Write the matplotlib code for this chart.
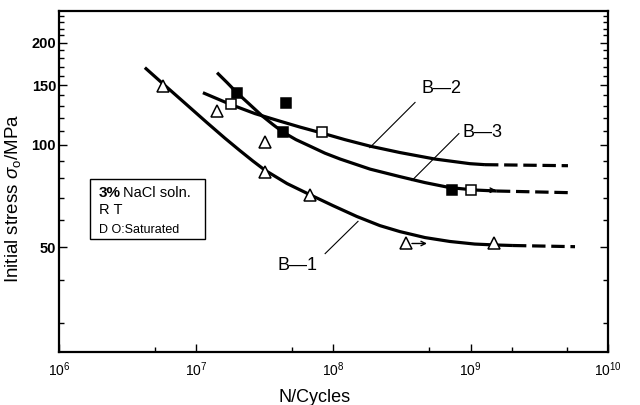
import numpy as np
import matplotlib
matplotlib.use('Agg')
import matplotlib.pyplot as plt
from matplotlib.ticker import FixedLocator, NullFormatter

# curve points (cycles, MPa)
b1_x = [4.23e6, 5.72e6, 8.28e6, 1.2e7, 1.62e7, 2.08e7, 2.59e7, 3.17e7, 4.59e7, 6.74e7,
        9.92e7, 1.48e8, 2.18e8, 3.05e8, 4.64e8, 7.06e8, 1.07e9, 1.48e9, 2.03e9]
b1_y = [168.9, 151.5, 132.8, 116.3, 104.7, 96.3, 89.7, 84.3, 77.0, 71.4,
        66.3, 61.6, 57.9, 55.6, 53.4, 52.0, 51.1, 50.8, 50.6]
b1_dash_x = [2.03e9, 5.75e9]
b1_dash_y = [50.6, 50.2]

b2_x = [1.12e7, 1.79e7, 2.68e7, 4.08e7, 5.7e7, 8.25e7, 1.21e8, 1.85e8, 3.05e8, 5.49e8, 9.87e8, 1.27e9]
b2_y = [142.5, 131.5, 123.7, 117.5, 112.9, 108.4, 103.7, 99.2, 95.0, 90.9, 88.1, 87.5]
b2_dash_x = [1.27e9, 5.11e9]
b2_dash_y = [87.5, 86.9]

b3_x = [1.42e7, 1.68e7, 1.98e7, 2.46e7, 3.01e7, 3.63e7, 4.29e7, 5.33e7, 6.86e7, 8.67e7,
        1.12e8, 1.85e8, 3.05e8, 4.64e8, 7.06e8, 1.07e9, 1.55e9]
b3_y = [163.2, 152.6, 142.5, 131.5, 122.0, 114.8, 109.1, 103.7, 98.9, 94.6,
        90.9, 84.9, 80.7, 77.5, 74.9, 73.7, 73.2]
b3_dash_x = [1.55e9, 5.11e9]
b3_dash_y = [73.2, 72.4]

# measured points
tri_x = [5.7e6, 1.42e7, 3.17e7, 3.17e7, 6.7e7, 3.4e8, 1.48e9]
tri_y = [149.5, 126, 102, 83, 71.4, 51.3, 51.3]
osq_x = [1.78e7, 8.2e7, 1.0e9]
osq_y = [132, 109, 73.6]
fsq_x = [1.97e7, 4.26e7, 4.5e7, 7.3e8]
fsq_y = [142, 109, 133, 73.6]

# run-outs (arrow start, arrow end, level)
runout_x0 = [3.73e8, 1.09e9]
runout_x1 = [4.8e8, 1.53e9]
runout_y = [51.3, 73.6]

labels = ['B\u20141', 'B\u20142', 'B\u20143']
label_xy = [(5.5e7, 44.2), (6.1e8, 146.6), (1.21e9, 108.8)]
leader_xy = [(1.51e8, 59.6), (1.84e8, 98.2), (3.73e8, 78.6)]
leader_start = [(8.7e7, 47.9), (3.93e8, 133.4), (8.2e8, 108)]

yticks = [50, 100, 150, 200]
yminor = [30, 40, 60, 70, 80, 90, 110, 120, 130, 140, 160, 170, 180, 190, 210, 220, 230, 240]
xticks = [1e6, 1e7, 1e8, 1e9, 1e10]
xminor = [5e6, 5e7, 5e8, 2e9, 5e9]

plt.rcParams['font.family'] = ['Liberation Sans', 'DejaVu Sans']
plt.rcParams['mathtext.fontset'] = 'custom'
plt.rcParams['mathtext.rm'] = 'Liberation Sans'
plt.rcParams['mathtext.it'] = 'Liberation Sans:italic'

fig = plt.figure(figsize=(6.4, 4.05), dpi=100)
ax = fig.add_axes([0.092, 0.131, 0.858, 0.842])
ax.set_xscale('log')
ax.set_yscale('log')
ax.set_xlim(1e6, 1e10)
ax.set_ylim(24.6, 248)

lw = 2.3
dash = (0, (4.2, 1.8))
for x, y, dx, dy in [(b1_x, b1_y, b1_dash_x, b1_dash_y),
                     (b2_x, b2_y, b2_dash_x, b2_dash_y),
                     (b3_x, b3_y, b3_dash_x, b3_dash_y)]:
    ax.plot(x, y, color='black', lw=lw, solid_capstyle='butt', solid_joinstyle='round', zorder=2)
    ax.plot(dx, dy, color='black', lw=lw, linestyle=dash, zorder=2)

for i in range(len(runout_x0)):
    ax.annotate('', xy=(runout_x1[i], runout_y[i]), xytext=(runout_x0[i], runout_y[i]),
                arrowprops=dict(arrowstyle='->', lw=1.0, color='black', shrinkA=0, shrinkB=0,
                                mutation_scale=8), zorder=3)

ax.plot(tri_x, tri_y, linestyle='none', marker='^', ms=8, mfc='white', mec='black', mew=1.1, zorder=4)
ax.plot(osq_x, osq_y, linestyle='none', marker='s', ms=7.5, mfc='white', mec='black', mew=1.1, zorder=4)
ax.plot(fsq_x, fsq_y, linestyle='none', marker='s', ms=7.5, mfc='black', mec='black', mew=1.1, zorder=4)

for lab, txy, lxy, sxy in zip(labels, label_xy, leader_xy, leader_start):
    ax.plot([sxy[0], lxy[0]], [sxy[1], lxy[1]], color='black', lw=0.8, zorder=3)
    ax.text(txy[0], txy[1], lab, fontsize=13, ha='center', va='center')

# condition box
ax.add_patch(plt.Rectangle((0.0565, 0.331), 0.21, 0.176, transform=ax.transAxes,
                           fill=False, lw=1.0, ec='black', zorder=3))
ax.text(0.073, 0.466, '3%', transform=ax.transAxes, fontsize=11, fontweight='bold', va='center')
ax.text(0.117, 0.466, 'NaCl soln.', transform=ax.transAxes, fontsize=10.5, va='center')
ax.text(0.073, 0.416, 'R T', transform=ax.transAxes, fontsize=10.5, va='center')
ax.text(0.073, 0.358, 'D O:Saturated', transform=ax.transAxes, fontsize=9, va='center')

ax.yaxis.set_major_locator(FixedLocator(yticks))
ax.yaxis.set_minor_locator(FixedLocator(yminor))
ax.set_yticklabels([str(v) for v in yticks], fontsize=10.5, fontweight='bold',
                   family=['Liberation Sans Narrow', 'Liberation Sans'])
ax.yaxis.set_minor_formatter(NullFormatter())
ax.xaxis.set_major_locator(FixedLocator(xticks))
ax.xaxis.set_minor_locator(FixedLocator(xminor))
ax.set_xticklabels([r'$10^{%d}$' % int(np.log10(v)) for v in xticks], fontsize=10)
ax.xaxis.set_minor_formatter(NullFormatter())

ax.tick_params(which='both', direction='in', right=True, top=False, width=1.0)
ax.tick_params(which='major', length=6)
ax.tick_params(which='minor', length=3.5)
ax.tick_params(axis='x', pad=6)
ax.tick_params(axis='y', pad=2)
for s in ax.spines.values():
    s.set_linewidth(1.6)

ax.set_ylabel(r'Initial stress $\sigma_{\rm o}$/MPa', fontsize=13.5)
ax.yaxis.set_label_coords(-0.066, 0.45)
ax.set_xlabel('N/Cycles', fontsize=13)
ax.xaxis.set_label_coords(0.466, -0.11)

fig.savefig('out.png', dpi=100)
